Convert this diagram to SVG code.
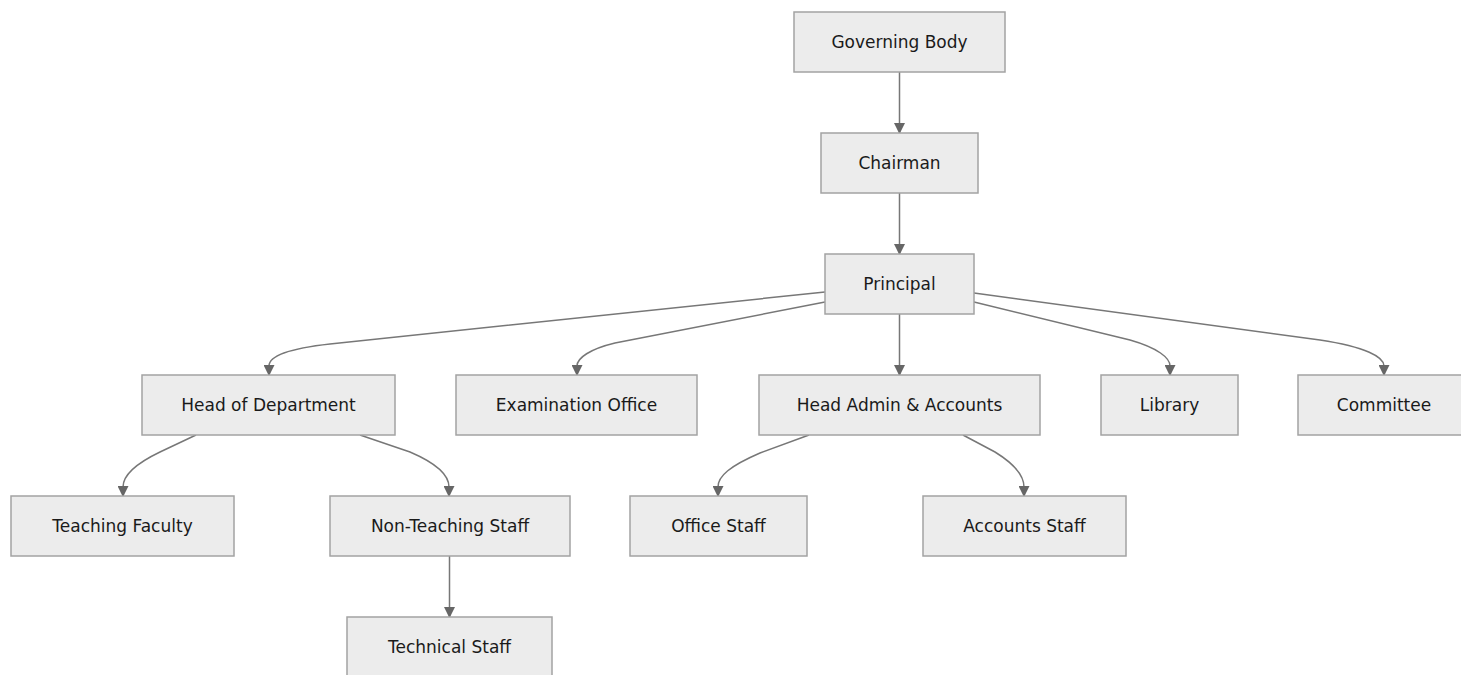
<svg xmlns="http://www.w3.org/2000/svg" width="1461" height="675" viewBox="0 0 1461 675">
<style>
.n rect{fill:#ececec;stroke:#a3a3a3;stroke-width:1.5}
.n text{font-family:"DejaVu Sans",Verdana,sans-serif;font-size:17px;fill:#1a1a1a;text-anchor:middle;dominant-baseline:central}
.e path{fill:none;stroke:#777;stroke-width:1.5}
</style>
<defs>
<marker id="ah" viewBox="0 0 10 10" refX="9" refY="5" markerWidth="11" markerHeight="11" markerUnits="userSpaceOnUse" orient="auto">
<path d="M0,0 L10,5 L0,10 z" fill="#666"/>
</marker>
</defs>
<rect width="1461" height="675" fill="#fff"/>
<g class="e" id="edges">
<path d="M899.5,72 L899.5,133" marker-end="url(#ah)"/>
<path d="M899.5,193 L899.5,254" marker-end="url(#ah)"/>
<path d="M825,292 L330,344 C285,349 269,357 269,366 L269,375" marker-end="url(#ah)"/>
<path d="M825,302 L615,343 C590,349 577,358 577,366 L577,375" marker-end="url(#ah)"/>
<path d="M899.5,314 L899.5,375" marker-end="url(#ah)"/>
<path d="M974,302 L1130,340 C1158,348 1170,358 1170,366 L1170,375" marker-end="url(#ah)"/>
<path d="M974,293 L1320,340 C1366,347 1384,357 1384,366 L1384,375" marker-end="url(#ah)"/>
<path d="M196,435 L160,452 C135,464 123,476 123,487 L123,496" marker-end="url(#ah)"/>
<path d="M360,435 L410,452 C438,464 449,476 449,487 L449,496" marker-end="url(#ah)"/>
<path d="M449.5,556 L449.5,617" marker-end="url(#ah)"/>
<path d="M809,435 L760,453 C730,466 718,476 718,487 L718,496" marker-end="url(#ah)"/>
<path d="M963,435 L995,452 C1016,465 1024,476 1024,487 L1024,496" marker-end="url(#ah)"/>
</g>
<g class="n" id="governing"><rect x="794" y="12" width="211" height="60"/><text x="899.5" y="42">Governing Body</text></g>
<g class="n" id="chairman"><rect x="821" y="133" width="157" height="60"/><text x="899.5" y="163">Chairman</text></g>
<g class="n" id="principal"><rect x="825" y="254" width="149" height="60"/><text x="899.5" y="284">Principal</text></g>
<g class="n" id="hod"><rect x="142" y="375" width="253" height="60"/><text x="268.5" y="405">Head of Department</text></g>
<g class="n" id="exam"><rect x="456" y="375" width="241" height="60"/><text x="576.5" y="405">Examination Office</text></g>
<g class="n" id="admin"><rect x="759" y="375" width="281" height="60"/><text x="899.5" y="405">Head Admin &amp; Accounts</text></g>
<g class="n" id="library"><rect x="1101" y="375" width="137" height="60"/><text x="1169.5" y="405">Library</text></g>
<g class="n" id="committee"><rect x="1298" y="375" width="172" height="60"/><text x="1384" y="405">Committee</text></g>
<g class="n" id="teaching"><rect x="11" y="496" width="223" height="60"/><text x="122.5" y="526">Teaching Faculty</text></g>
<g class="n" id="nonteaching"><rect x="330" y="496" width="240" height="60"/><text x="450" y="526">Non-Teaching Staff</text></g>
<g class="n" id="technical"><rect x="347" y="617" width="205" height="60"/><text x="449.5" y="647">Technical Staff</text></g>
<g class="n" id="office"><rect x="630" y="496" width="177" height="60"/><text x="718.5" y="526">Office Staff</text></g>
<g class="n" id="accounts"><rect x="923" y="496" width="203" height="60"/><text x="1024.5" y="526">Accounts Staff</text></g>
</svg>
